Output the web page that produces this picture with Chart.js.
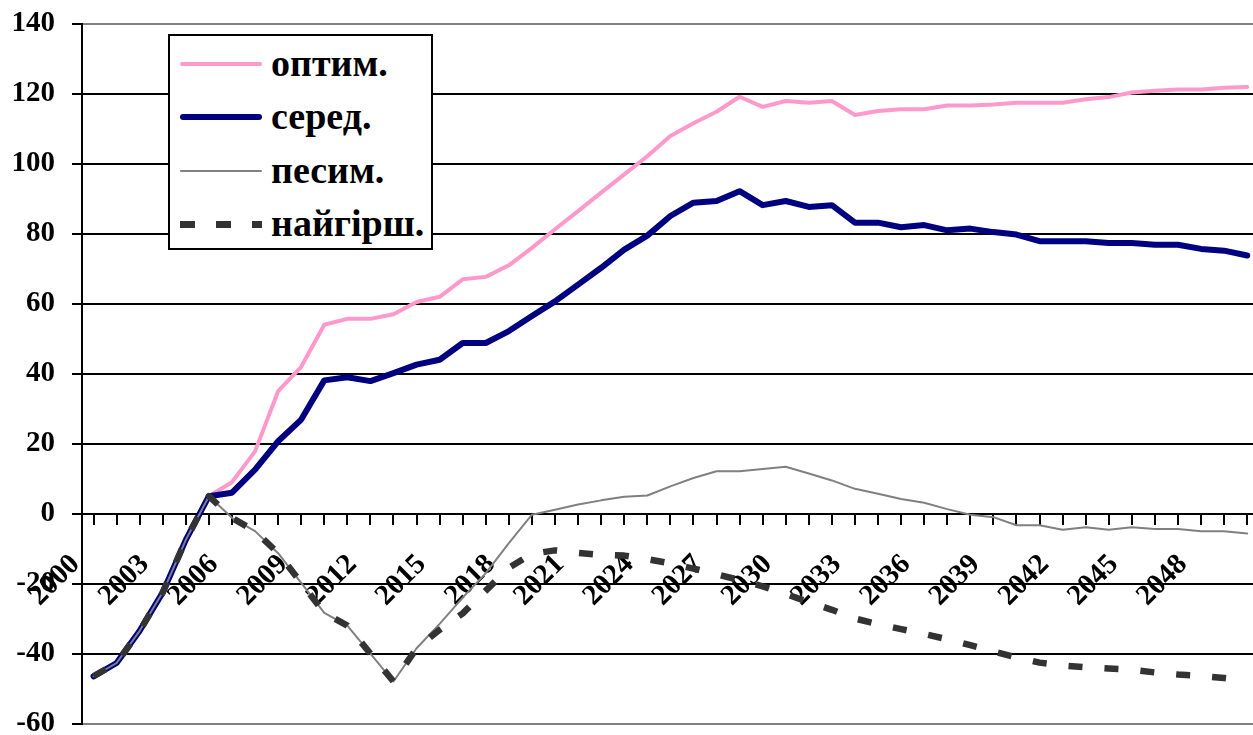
<!DOCTYPE html>
<html>
<head>
<meta charset="utf-8">
<script src="https://cdn.jsdelivr.net/npm/chart.js@4.4.1/dist/chart.umd.min.js"></script>
<style>
    body { margin: 0; overflow: hidden; background: #fff; }
    #wrap { position: relative; width: 1262px; height: 735px; }
    #legend {
        position: absolute; left: 168px; top: 34px;
        width: 265px; height: 216px; box-sizing: border-box;
        border: 2px solid #000; background: #fff; padding-top: 1px;
    }
    #legend .row { display: flex; align-items: center; height: 53.5px; }
    #legend .sample { display: inline-block; width: 82px; margin-left: 10px; flex-shrink: 0; }
    #legend .txt {
        margin-left: 9px; font: bold 38px "Liberation Serif", serif;
        line-height: 38px; color: #000; white-space: nowrap; position: relative; top: -1px;
    }
</style>
</head>
<body>
<div id="wrap">
    <canvas id="chart" width="1262" height="735"></canvas>
    <div id="legend"></div>
</div>
<script>
const years = [2000, 2001, 2002, 2003, 2004, 2005, 2006, 2007, 2008, 2009,
    2010, 2011, 2012, 2013, 2014, 2015, 2016, 2017, 2018, 2019,
    2020, 2021, 2022, 2023, 2024, 2025, 2026, 2027, 2028, 2029,
    2030, 2031, 2032, 2033, 2034, 2035, 2036, 2037, 2038, 2039,
    2040, 2041, 2042, 2043, 2044, 2045, 2046, 2047, 2048, 2049, 2050];

const optimistic = [-46.5, -42.7, -33.5, -22.5, -7.5, 5, 9, 17.8, 35, 42,
    54, 55.7, 55.7, 57, 60.5, 62, 67, 67.7, 71, 76,
    81.3, 86.5, 91.8, 97, 102.2, 108, 111.6, 114.9, 119.2, 116.3,
    118, 117.5, 118, 114, 115.1, 115.6, 115.6, 116.7, 116.7, 117,
    117.5, 117.5, 117.5, 118.5, 119.1, 120.4, 120.9, 121.3, 121.3, 121.8, 122];

const middle = [-46.5, -42.7, -33.5, -22.5, -7.5, 5, 6, 12.6, 20.7, 26.9,
    38.1, 39, 37.9, 40.2, 42.6, 44, 48.8, 48.8, 52.2, 56.5,
    60.7, 65.5, 70.3, 75.5, 79.5, 85.1, 88.9, 89.4, 92.2, 88.2,
    89.4, 87.7, 88.2, 83.2, 83.2, 81.9, 82.5, 81, 81.5, 80.5,
    79.8, 77.9, 77.9, 77.9, 77.4, 77.4, 76.9, 76.9, 75.7, 75.2, 73.8];

const pessimistic = [-46.5, -42.7, -33.5, -22.5, -7.5, 5, -1.2, -5, -11.3, -19.8,
    -28.4, -32, -40, -48, -38.5, -31.5, -24, -17, -8.4, -0.3,
    1.1, 2.6, 3.8, 4.8, 5.2, 7.8, 10.2, 12.1, 12.1, 12.8,
    13.4, 11.5, 9.5, 7.1, 5.7, 4.2, 3.1, 1.3, -0.3, -1,
    -3.3, -3.3, -4.6, -3.9, -4.6, -3.9, -4.4, -4.4, -5, -5, -5.7];

const worst = [-46.5, -42.7, -33.5, -22.5, -7.5, 5, -1.2, -5, -11.3, -19.8,
    -28.4, -32, -40, -48, -38.5, -33.2, -28.5, -22, -15.5, -11.5,
    -10.5, -11.2, -11.8, -12, -13, -14.2, -15.7, -17.3, -19, -20.8,
    -23, -25.3, -27.5, -30, -31.6, -33, -34.4, -35.9, -37.6, -39.4,
    -41.1, -42.6, -43.4, -43.9, -44.3, -44.6, -45.4, -46, -46.4, -47, -47.8];

const seriesNames = ['оптим.', 'серед.', 'песим.', 'найгірш.'];
const yRange = [-60, 140];
const yStep = 20;
const labelEvery = 3;

const axisFont = { family: '"Liberation Serif", serif', size: 29, weight: 'bold' };

const htmlLegendPlugin = {
    id: 'htmlLegend',
    afterUpdate(chart, args, options) {
        const box = document.getElementById(options.containerID);
        while (box.firstChild) {
            box.firstChild.remove();
        }
        const items = chart.options.plugins.legend.labels.generateLabels(chart);
        items.sort((a, b) => a.datasetIndex - b.datasetIndex);
        items.forEach(item => {
            const row = document.createElement('div');
            row.className = 'row';

            // line sample
            const sample = document.createElement('span');
            sample.className = 'sample';
            sample.style.height = item.lineWidth + 'px';
            if (item.lineDash && item.lineDash.length) {
                const d = item.lineDash;
                sample.style.background = 'repeating-linear-gradient(to right, ' + item.strokeStyle +
                    ' 0 ' + (d[0] + 1) + 'px, transparent ' + (d[0] + 1) + 'px ' + (d[0] + d[1]) + 'px)';
            } else {
                sample.style.background = item.strokeStyle;
                sample.style.borderRadius = (item.lineWidth / 2) + 'px';
            }

            const txt = document.createElement('span');
            txt.className = 'txt';
            txt.appendChild(document.createTextNode(item.text));

            row.appendChild(sample);
            row.appendChild(txt);
            box.appendChild(row);
        });
    }
};

const config = {
    type: 'line',
    data: {
        labels: years,
        datasets: [
            {
                label: seriesNames[0],
                data: optimistic,
                borderColor: '#FF99CC',
                borderWidth: 4,
                order: 3
            },
            {
                label: seriesNames[1],
                data: middle,
                borderColor: '#000080',
                borderWidth: 6,
                order: 2
            },
            {
                label: seriesNames[2],
                data: pessimistic,
                borderColor: '#808080',
                borderWidth: 2,
                order: 1
            },
            {
                label: seriesNames[3],
                data: worst,
                borderColor: '#333333',
                borderWidth: 6.5,
                borderDash: [14, 22],
                borderCapStyle: 'butt',
                order: 0
            }
        ]
    },
    options: {
        responsive: false,
        animation: false,
        layout: { padding: { left: 13, top: 24, right: 3, bottom: 11.5 } },
        elements: {
            point: { radius: 0 },
            line: { tension: 0, borderCapStyle: 'round', borderJoinStyle: 'round', fill: false }
        },
        plugins: {
            legend: { display: false },
            tooltip: { enabled: false },
            title: { display: false },
            htmlLegend: { containerID: 'legend' }
        },
        scales: {
            x: {
                type: 'category',
                offset: true,
                position: { y: 0 },
                grid: {
                    display: true,
                    drawOnChartArea: false,
                    drawTicks: true,
                    tickLength: 10,
                    color: '#000',
                    lineWidth: 2
                },
                border: { display: true, color: '#000', width: 2 },
                ticks: {
                    autoSkip: false,
                    maxRotation: 45,
                    minRotation: 45,
                    padding: 24,
                    labelOffset: -18,
                    color: '#000',
                    font: axisFont,
                    callback: function (value, index) {
                        return index % labelEvery === 0 ? String(years[index]) : '';
                    }
                },
                afterFit: function (scale) {
                    scale.paddingLeft = 0;
                    scale.paddingRight = 0;
                }
            },
            y: {
                min: yRange[0],
                max: yRange[1],
                grid: {
                    color: function (ctx) {
                        const v = ctx.tick ? ctx.tick.value : null;
                        return (v === yRange[0] || v === yRange[1]) ? '#808080' : '#000';
                    },
                    tickColor: '#000',
                    lineWidth: 2,
                    tickLength: 10
                },
                border: { display: true, color: '#000', width: 2 },
                ticks: {
                    stepSize: yStep,
                    padding: 17,
                    color: '#000',
                    font: axisFont
                },
                afterFit: function (scale) {
                    scale.width = 69;
                    scale.paddingTop = 0;
                    scale.paddingBottom = 0;
                }
            }
        }
    },
    plugins: [htmlLegendPlugin]
};

const chart = new Chart(document.getElementById('chart'), config);
document.fonts.ready.then(() => chart.update());
</script>
</body>
</html>
